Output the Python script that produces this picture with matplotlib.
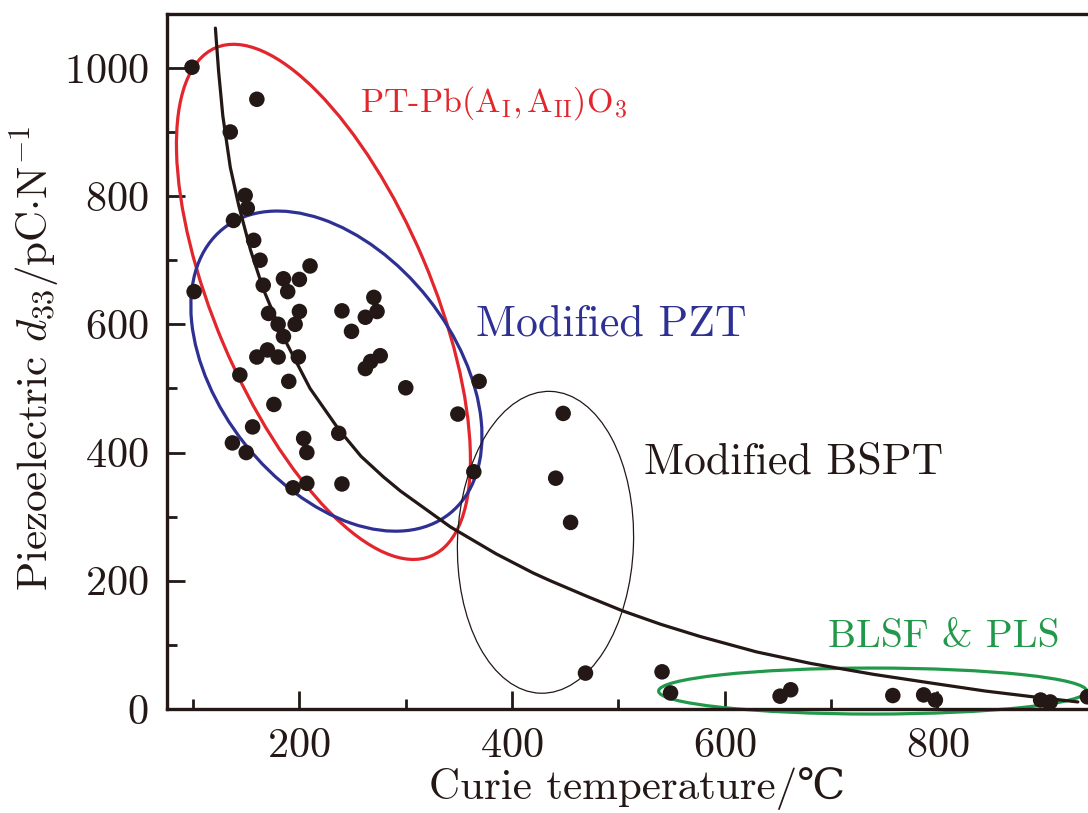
import matplotlib
matplotlib.use("Agg")
import matplotlib.pyplot as plt
import matplotlib.transforms as mtransforms
from matplotlib.patches import Ellipse
from matplotlib.ticker import MultipleLocator

plt.rcParams['font.family'] = ['cmr10', 'DejaVu Serif', 'Noto Sans CJK SC']
plt.rcParams['mathtext.fontset'] = 'cm'
plt.rcParams['axes.formatter.use_mathtext'] = True

# ---- data ----
curie_temp = [99, 160, 135,
              149, 151, 138, 157, 163, 210, 185, 200, 189, 166, 101, 171, 200,
              180, 196, 185, 270, 273, 262, 240, 249, 160, 170, 180, 199, 276,
              262, 267, 144, 190, 300, 369, 176, 349, 156, 137, 150, 204, 207,
              237, 364, 194, 207, 240,
              448, 441, 455, 469,
              541, 549, 652, 662, 758, 787, 798, 897, 906, 941]
d33 = [1001, 951, 900,
       801, 781, 762, 731, 700, 691, 671, 670, 651, 661, 651, 617, 620,
       600, 600, 581, 642, 620, 611, 621, 589, 549, 560, 549, 549, 551,
       531, 542, 521, 511, 501, 511, 475, 460, 440, 415, 400, 422, 400,
       430, 370, 345, 352, 351,
       461, 360, 291, 56,
       58, 25, 20, 30, 21, 22, 14, 14, 11, 19]

# fitted trend line
fit_temp = [121, 124, 128, 135, 143, 154, 166, 185, 210, 237, 258, 279,
            295, 342, 385, 420, 436, 470, 504, 540, 577, 630, 681, 740,
            796, 845, 890, 932]
fit_d33 = [1062, 995, 925, 845, 785, 716, 655, 580, 500, 436, 394, 362,
           340, 284, 242, 212, 200, 176, 153, 132, 113, 89, 71, 54,
           40, 28, 19, 11]

group_labels = ['PT-Pb(A$_{\\rm I}$,$\\,$A$_{\\rm II}$)O$_3$', 'Modified PZT',
                'Modified BSPT', 'BLSF & PLS']

x_ticks = [200, 400, 600, 800]
y_ticks = [0, 200, 400, 600, 800, 1000]

# ---- styling ----
INK = '#231815'
RED = '#e2262c'
BLUE = '#2e3192'
GREEN = '#22994a'

W, H, DPI = 1088, 813, 100
fig = plt.figure(figsize=(W / DPI, H / DPI), dpi=DPI)
ax = fig.add_axes([167 / W, 104 / H, 930 / W, 695 / H])

ax.set_xlim(75.5, 950)
ax.set_ylim(0, 1084)

ax.plot(fit_temp, fit_d33, color=INK, lw=2.3, solid_capstyle='round',
        solid_joinstyle='round', zorder=3)
ax.scatter(curie_temp, d33, s=125, color=INK, edgecolors='none', zorder=4)

# highlight ellipses: centre in data units, size in inches
ellipses = [
    dict(center=(222.6, 635), w=5.52, h=2.17, angle=113, color=RED, lw=2.3),
    dict(center=(234.8, 527), w=3.64, h=2.34, angle=128.4, color=BLUE, lw=2.3),
    dict(center=(431.4, 260), w=3.02, h=1.76, angle=88, color=INK, lw=0.9),
    dict(center=(739.0, 28), w=4.28, h=0.46, angle=0, color=GREEN, lw=2.3),
]
for e in ellipses:
    tr = fig.dpi_scale_trans + mtransforms.ScaledTranslation(
        e['center'][0], e['center'][1], ax.transData)
    ax.add_patch(Ellipse((0, 0), e['w'], e['h'], angle=e['angle'],
                         fill=False, edgecolor=e['color'], lw=e['lw'],
                         transform=tr, clip_on=False, zorder=2))

label_pos = [(257, 945), (366, 599), (524, 385), (697, 112)]
label_col = [RED, BLUE, INK, GREEN]
label_size = [24.5, 31.5, 31.5, 28.5]
for txt, (lx, ly), c, fs in zip(group_labels, label_pos, label_col, label_size):
    ax.text(lx, ly, txt, color=c, fontsize=fs, ha='left', va='center')

ax.set_xticks(x_ticks)
ax.set_yticks(y_ticks)
ax.xaxis.set_minor_locator(MultipleLocator(100))
ax.yaxis.set_minor_locator(MultipleLocator(100))
ax.tick_params(which='major', direction='in', length=13, width=2.0,
               color=INK, labelsize=30.5, pad=13, labelcolor=INK)
ax.tick_params(which='minor', direction='in', length=7, width=2.0, color=INK)
ax.tick_params(top=False, right=False, which='both')

for side in ['left', 'bottom', 'top']:
    ax.spines[side].set_linewidth(2.4)
    ax.spines[side].set_color(INK)
ax.spines['right'].set_visible(False)

ax.set_xlabel('Curie temperature/\u2103', fontsize=31, color=INK)
ax.set_ylabel('Piezoelectric $d_{33}$/pC$\\cdot$N$^{-1}$', fontsize=31,
              color=INK)
ax.xaxis.set_label_coords(0.506, -0.114)
ax.xaxis.label.set_va('center')
ax.yaxis.set_label_coords(-0.142, 0.505)
ax.yaxis.label.set_va('center')

fig.savefig('out.png', dpi=DPI)
